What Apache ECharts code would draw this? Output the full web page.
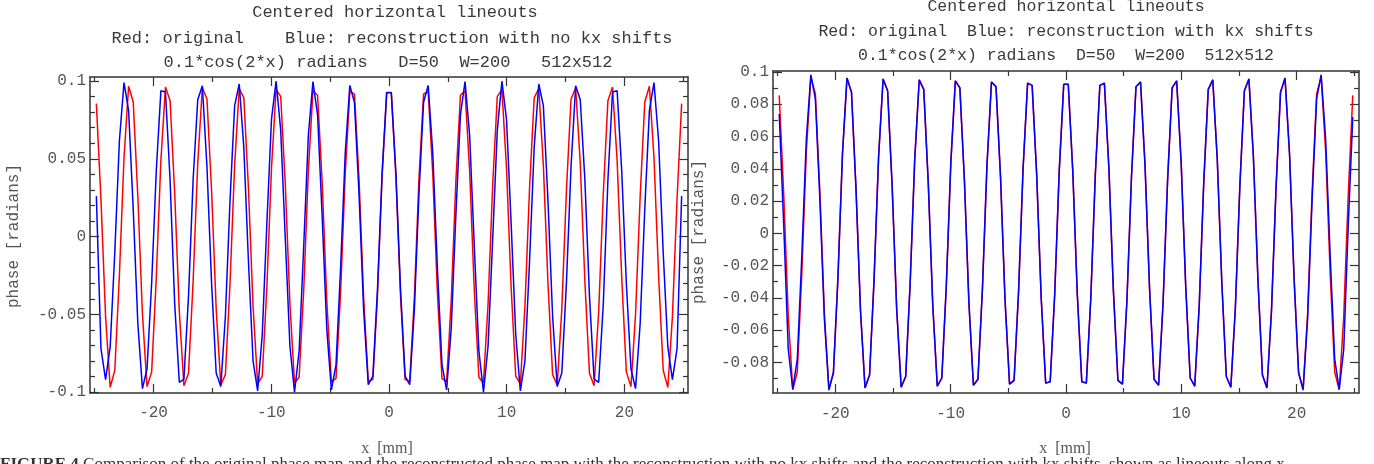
<!DOCTYPE html>
<html>
<head>
<meta charset="utf-8">
<title>Centered horizontal lineouts</title>
<script src="https://cdn.jsdelivr.net/npm/echarts@6.0.0/dist/echarts.min.js"></script>
<style>
  html, body { margin: 0; padding: 0; background: #fff; }
  #chart { width: 1374px; height: 464px; }
</style>
</head>
<body>
<div id="chart"></div>
<script>
// sample positions of the lineout [mm]
const xs = [
  -24.860, -24.469, -24.077, -23.686, -23.294, -22.903, -22.511, -22.120,
  -21.728, -21.337, -20.945, -20.554, -20.162, -19.771, -19.379, -18.988,
  -18.596, -18.205, -17.813, -17.422, -17.030, -16.639, -16.247, -15.856,
  -15.464, -15.073, -14.681, -14.290, -13.898, -13.507, -13.115, -12.724,
  -12.332, -11.941, -11.549, -11.158, -10.766, -10.375, -9.983, -9.592,
  -9.200, -8.809, -8.417, -8.026, -7.634, -7.243, -6.851, -6.460,
  -6.068, -5.677, -5.285, -4.894, -4.502, -4.111, -3.719, -3.328,
  -2.936, -2.545, -2.153, -1.762, -1.370, -0.979, -0.587, -0.196,
  0.196, 0.587, 0.979, 1.370, 1.762, 2.153, 2.545, 2.936,
  3.328, 3.719, 4.111, 4.502, 4.894, 5.285, 5.677, 6.068,
  6.460, 6.851, 7.243, 7.634, 8.026, 8.417, 8.809, 9.200,
  9.592, 9.983, 10.375, 10.766, 11.158, 11.549, 11.941, 12.332,
  12.724, 13.115, 13.507, 13.898, 14.290, 14.681, 15.073, 15.464,
  15.856, 16.247, 16.639, 17.030, 17.422, 17.813, 18.205, 18.596,
  18.988, 19.379, 19.771, 20.162, 20.554, 20.945, 21.337, 21.728,
  22.120, 22.511, 22.903, 23.294, 23.686, 24.077, 24.469, 24.860
];

// red: original phase [radians]
const original = [
  0.0855, 0.0240, -0.0515, -0.0970, -0.0860, -0.0250, 0.0507, 0.0967,
  0.0865, 0.0259, -0.0499, -0.0965, -0.0870, -0.0268, 0.0490, 0.0962,
  0.0874, 0.0277, -0.0482, -0.0959, -0.0879, -0.0287, 0.0473, 0.0957,
  0.0884, 0.0296, -0.0465, -0.0954, -0.0888, -0.0305, 0.0456, 0.0951,
  0.0892, 0.0314, -0.0448, -0.0948, -0.0897, -0.0324, 0.0439, 0.0945,
  0.0901, 0.0333, -0.0431, -0.0942, -0.0905, -0.0342, 0.0422, 0.0938,
  0.0909, 0.0351, -0.0413, -0.0935, -0.0912, -0.0360, 0.0404, 0.0931,
  0.0917, 0.0369, -0.0396, -0.0929, -0.0920, -0.0378, 0.0387, 0.0924,
  0.0924, 0.0387, -0.0378, -0.0920, -0.0929, -0.0396, 0.0369, 0.0917,
  0.0931, 0.0404, -0.0360, -0.0912, -0.0935, -0.0413, 0.0351, 0.0909,
  0.0938, 0.0422, -0.0342, -0.0905, -0.0942, -0.0431, 0.0333, 0.0901,
  0.0945, 0.0439, -0.0324, -0.0897, -0.0948, -0.0448, 0.0314, 0.0892,
  0.0951, 0.0456, -0.0305, -0.0888, -0.0954, -0.0465, 0.0296, 0.0884,
  0.0957, 0.0473, -0.0287, -0.0879, -0.0959, -0.0482, 0.0277, 0.0874,
  0.0962, 0.0490, -0.0268, -0.0870, -0.0965, -0.0499, 0.0259, 0.0865,
  0.0967, 0.0507, -0.0250, -0.0860, -0.0970, -0.0515, 0.0240, 0.0855
];

// blue, left panel: reconstruction with no kx shifts
const reconNoShift = [
  0.0260, -0.0720, -0.0920, -0.0710, -0.0103, 0.0616, 0.0990, 0.0810,
  0.0175, -0.0558, -0.0978, -0.0850, -0.0300, 0.0420, 0.0937, 0.0930,
  0.0360, -0.0433, -0.0937, -0.0917, -0.0383, 0.0367, 0.0880, 0.0970,
  0.0449, -0.0298, -0.0877, -0.0965, -0.0512, 0.0228, 0.0840, 0.0981,
  0.0572, -0.0157, -0.0799, -0.0993, -0.0630, 0.0086, 0.0753, 0.0999,
  0.0684, -0.0014, -0.0704, -0.1000, -0.0735, -0.0059, 0.0651, 0.0996,
  0.0782, 0.0130, -0.0594, -0.0986, -0.0825, -0.0202, 0.0535, 0.0972,
  0.0864, 0.0272, -0.0473, -0.0952, -0.0898, -0.0341, 0.0408, 0.0927,
  0.0927, 0.0408, -0.0341, -0.0898, -0.0952, -0.0473, 0.0272, 0.0864,
  0.0972, 0.0535, -0.0202, -0.0825, -0.0986, -0.0594, 0.0130, 0.0782,
  0.0996, 0.0651, -0.0059, -0.0735, -0.1000, -0.0704, -0.0014, 0.0684,
  0.0999, 0.0753, 0.0086, -0.0630, -0.0993, -0.0799, -0.0157, 0.0572,
  0.0981, 0.0840, 0.0228, -0.0512, -0.0965, -0.0877, -0.0298, 0.0449,
  0.0970, 0.0880, 0.0367, -0.0383, -0.0917, -0.0937, -0.0433, 0.0360,
  0.0930, 0.0937, 0.0420, -0.0300, -0.0850, -0.0978, -0.0558, 0.0175,
  0.0810, 0.0990, 0.0616, -0.0103, -0.0710, -0.0920, -0.0720, 0.0260
];

// blue, right panel: reconstruction with kx shifts
const reconShift = [
  0.0740, 0.0050, -0.0720, -0.0967, -0.0780, -0.0142, 0.0582, 0.0983,
  0.0833, 0.0210, -0.0532, -0.0972, -0.0860, -0.0285, 0.0490, 0.0962,
  0.0874, 0.0277, -0.0482, -0.0959, -0.0879, -0.0287, 0.0473, 0.0957,
  0.0884, 0.0296, -0.0465, -0.0954, -0.0888, -0.0305, 0.0456, 0.0951,
  0.0892, 0.0314, -0.0448, -0.0948, -0.0897, -0.0324, 0.0439, 0.0945,
  0.0901, 0.0333, -0.0431, -0.0942, -0.0905, -0.0342, 0.0422, 0.0938,
  0.0909, 0.0351, -0.0413, -0.0935, -0.0912, -0.0360, 0.0404, 0.0931,
  0.0917, 0.0369, -0.0396, -0.0929, -0.0920, -0.0378, 0.0387, 0.0924,
  0.0924, 0.0387, -0.0378, -0.0920, -0.0929, -0.0396, 0.0369, 0.0917,
  0.0931, 0.0404, -0.0360, -0.0912, -0.0935, -0.0413, 0.0351, 0.0909,
  0.0938, 0.0422, -0.0342, -0.0905, -0.0942, -0.0431, 0.0333, 0.0901,
  0.0945, 0.0439, -0.0324, -0.0897, -0.0948, -0.0448, 0.0314, 0.0892,
  0.0951, 0.0456, -0.0305, -0.0888, -0.0954, -0.0465, 0.0296, 0.0884,
  0.0957, 0.0473, -0.0287, -0.0879, -0.0959, -0.0482, 0.0277, 0.0874,
  0.0962, 0.0490, -0.0285, -0.0860, -0.0972, -0.0532, 0.0210, 0.0833,
  0.0983, 0.0582, -0.0142, -0.0780, -0.0967, -0.0720, 0.0050, 0.0720
];

// tick positions
const xMajorTicks = [-20, -10, 0, 10, 20];
const xMinorTicks = [-25, -15, -5, 5, 15, 25];
const leftYMajor = [-0.1, -0.05, 0, 0.05, 0.1];
const leftYMinor = [-0.09, -0.08, -0.07, -0.06, -0.04, -0.03, -0.02, -0.01,
  0.01, 0.02, 0.03, 0.04, 0.06, 0.07, 0.08, 0.09];
const rightYMajor = [-0.08, -0.06, -0.04, -0.02, 0, 0.02, 0.04, 0.06, 0.08, 0.1];
const rightYMinor = [-0.09, -0.07, -0.05, -0.03, -0.01, 0.01, 0.03, 0.05, 0.07, 0.09];

const MONO = "'Liberation Mono', 'DejaVu Sans Mono', monospace";
const SERIF = "'Liberation Serif', 'DejaVu Serif', serif";
const INK = '#333';

const pairs = (ys) => xs.map((x, i) => [x, ys[i]]);

// four axes per side pair: labelled major, minor, mirrored major, mirrored minor
function frameAxes(g, sides, range, major, minor, labelOpt) {
  const base = {
    gridIndex: g,
    type: 'value',
    min: range[0],
    max: range[1],
    splitLine: { show: false },
    axisPointer: { show: false }
  };
  const tick = (vals, len) => ({
    show: true, inside: true, length: len, customValues: vals,
    lineStyle: { color: INK, width: 1.2 }
  });
  const line = { show: true, onZero: false, lineStyle: { color: INK, width: 1.5 } };
  const noLine = { show: false, onZero: false };
  return [
    { ...base, position: sides[0], axisLine: line, axisTick: tick(major, 9),
      axisLabel: { customValues: major, formatter: (v) => String(v), ...labelOpt } },
    { ...base, position: sides[0], axisLine: noLine, axisTick: tick(minor, 5), axisLabel: { show: false } },
    { ...base, position: sides[1], axisLine: line, axisTick: tick(major, 9), axisLabel: { show: false } },
    { ...base, position: sides[1], axisLine: noLine, axisTick: tick(minor, 5), axisLabel: { show: false } }
  ];
}

const tickLabel = { fontFamily: MONO, fontSize: 16, color: '#555' };

const chart = echarts.init(document.getElementById('chart'), null, { renderer: 'canvas' });

const titleText = (x, y, text, size) => ({
  type: 'text', x, y,
  style: { text, font: size + 'px ' + MONO, fill: '#3a3a3a', align: 'center', verticalAlign: 'middle' }
});

chart.setOption({
  animation: false,
  backgroundColor: '#fff',
  grid: [
    { left: 90, top: 77, width: 598, height: 316 },
    { left: 773, top: 71, width: 586, height: 322 }
  ],
  xAxis: [
    ...frameAxes(0, ['bottom', 'top'], [-25.4, 25.4], xMajorTicks, xMinorTicks, { margin: 12, ...tickLabel }),
    ...frameAxes(1, ['bottom', 'top'], [-25.4, 25.4], xMajorTicks, xMinorTicks, { margin: 13, ...tickLabel })
  ],
  yAxis: [
    ...frameAxes(0, ['left', 'right'], [-0.1006, 0.1026], leftYMajor, leftYMinor, { margin: 4, ...tickLabel }),
    ...frameAxes(1, ['left', 'right'], [-0.099, 0.1006], rightYMajor, rightYMinor, { margin: 4, ...tickLabel })
  ],
  series: [
    { name: 'original', type: 'line', xAxisIndex: 0, yAxisIndex: 0, data: pairs(original),
      symbol: 'none', lineStyle: { color: '#ff0000', width: 1.5 } },
    { name: 'no kx shifts', type: 'line', xAxisIndex: 0, yAxisIndex: 0, data: pairs(reconNoShift),
      symbol: 'none', lineStyle: { color: '#0000ff', width: 1.5 } },
    { name: 'original', type: 'line', xAxisIndex: 4, yAxisIndex: 4, data: pairs(original),
      symbol: 'none', lineStyle: { color: '#ff0000', width: 1.5 } },
    { name: 'kx shifts', type: 'line', xAxisIndex: 4, yAxisIndex: 4, data: pairs(reconShift),
      symbol: 'none', lineStyle: { color: '#0000ff', width: 1.5 } }
  ],
  graphic: [
    titleText(395, 12, 'Centered horizontal lineouts', 17),
    titleText(392, 38, 'Red: original    Blue: reconstruction with no kx shifts', 17),
    titleText(388, 62, '0.1*cos(2*x) radians   D=50  W=200   512x512', 17),
    titleText(1066, 7, 'Centered horizontal lineouts', 16.5),
    titleText(1066, 32, 'Red: original  Blue: reconstruction with kx shifts', 16.5),
    titleText(1066, 56, '0.1*cos(2*x) radians  D=50  W=200  512x512', 16.5),
    {
      type: 'text', x: 14, y: 236, rotation: Math.PI / 2,
      style: { text: 'phase [radians]', font: '16px ' + MONO, fill: '#555', align: 'center', verticalAlign: 'middle' }
    },
    {
      type: 'text', x: 699, y: 232, rotation: Math.PI / 2,
      style: { text: 'phase [radians]', font: '16px ' + MONO, fill: '#555', align: 'center', verticalAlign: 'middle' }
    },
    {
      type: 'text', x: 387, y: 449,
      style: { text: 'x  [mm]', font: '16px ' + SERIF, fill: '#555', align: 'center', verticalAlign: 'middle' }
    },
    {
      type: 'text', x: 1065, y: 449,
      style: { text: 'x  [mm]', font: '16px ' + SERIF, fill: '#555', align: 'center', verticalAlign: 'middle' }
    },
    {
      type: 'text', x: 0, y: 456,
      style: {
        text: '{b|FIGURE 4} Comparison of the original phase map and the reconstructed phase map with the reconstruction with no kx shifts and the reconstruction with kx shifts, shown as lineouts along x',
        font: '17px ' + SERIF, fill: '#333', align: 'left', verticalAlign: 'top',
        rich: { b: { fontFamily: SERIF, fontSize: 17, fontWeight: 'bold', fill: '#333' } }
      }
    }
  ]
});
</script>
</body>
</html>
